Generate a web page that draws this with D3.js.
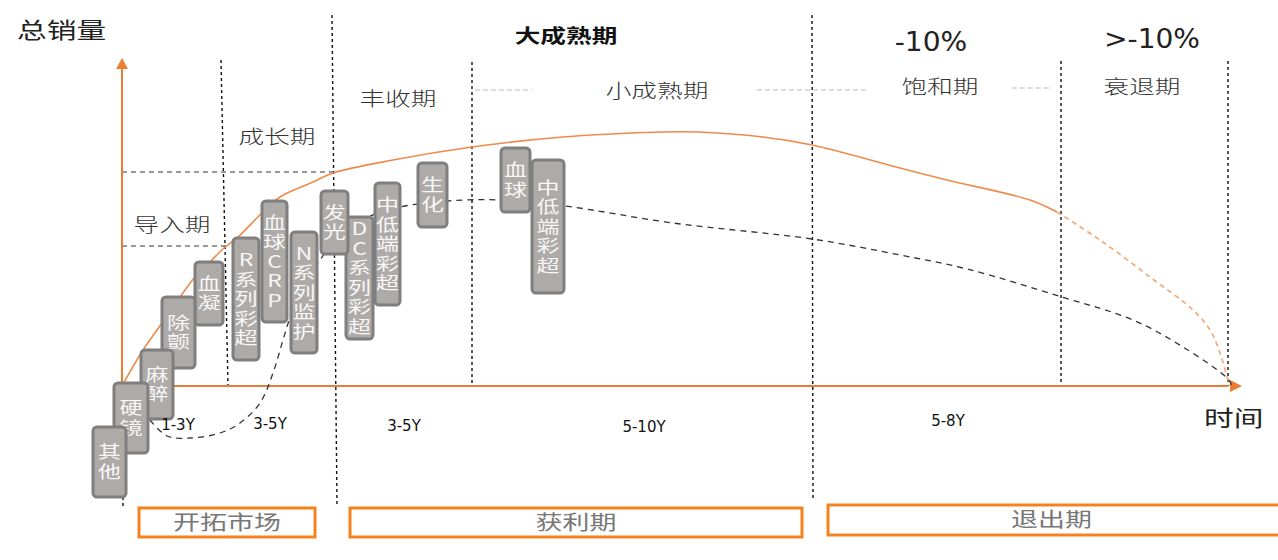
<!DOCTYPE html>
<html>
<head>
<meta charset="utf-8">
<script src="https://cdn.jsdelivr.net/npm/d3@7"></script>
<style>
body { margin: 0; background: #fff; }
text { font-family: "Noto Sans CJK SC", "Noto Sans", sans-serif; }
.divider { fill: none; stroke: #111; stroke-width: 1.4px; stroke-dasharray: 3 3; }
.guide { fill: none; stroke: #333; stroke-width: 1.2px; stroke-dasharray: 5 4; }
.guide--light { stroke: #bbb; stroke-dasharray: 5 3; }
.axis { stroke: #ED7D31; stroke-width: 2px; }
.sales { fill: none; stroke: #F08A4B; stroke-width: 1.6px; }
.sales--tail { stroke: #F5A46E; stroke-dasharray: 5 4; }
.profit { fill: none; stroke: #333; stroke-width: 1.3px; stroke-dasharray: 6 5; }
.product rect { fill: #AEAAA8; stroke: #7F7F7F; stroke-width: 3px; }
.product text { fill: #f7f7f7; font-size: 17px; text-anchor: middle; writing-mode: vertical-rl; text-orientation: upright; letter-spacing: 2.5px; }
.phase { fill: #333; font-size: 19px; font-weight: 300; text-anchor: middle; }
.span { fill: #111; font-family: "DejaVu Sans", sans-serif; font-size: 15px; text-anchor: middle; }
.stage rect { fill: none; stroke: #F5821F; stroke-width: 3px; }
.stage text { fill: #777; font-size: 20px; text-anchor: middle; }
</style>
</head>
<body>
<svg width="1278" height="560"></svg>
<script>

// total sales curve (time, sales)
var salesT = [0, 2.1, 4.0, 5.8, 7.3, 8.8, 10.2, 11.5, 14.0, 15.8, 19.1, 21.1, 27.1, 35.0, 44.1, 54.1, 57.5, 64.1, 69.0, 77.8, 82.5, 90.8, 93.5];
var salesV = [0, 3.6, 6.3, 8.9, 10.9, 12.4, 13.8, 14.8, 17.3, 18.9, 20.4, 21.3, 22.6, 23.9, 24.9, 25.4, 25.4, 24.9, 24.1, 21.8, 20.6, 18.6, 17.4];
// decline tail (dashed)
var tailT = [93.5, 97.8, 102.8, 107.1, 108.8, 109.8, 110.6, 110.8];
var tailV = [17.4, 14.6, 10.9, 7.6, 5.6, 3.3, 0.6, 0];
// profit curve (dashed black)
var profitT = [2.8, 4.5, 6.8, 9.8, 11.8, 13.8, 15.1, 16.1, 17.0, 18.3, 19.8, 22.3, 24.6, 27.8, 32.5, 38.0, 44.3, 55.1, 69.0, 77.8, 84.5, 94.0, 101.1, 106.1, 110.6, 111];
var profitV = [-3.4, -5.0, -5.2, -4.7, -3.7, -1.7, 1.3, 4.6, 7.4, 10.1, 12.6, 15.6, 16.9, 17.9, 18.5, 18.6, 18.0, 16.3, 14.7, 13.1, 11.7, 8.9, 6.6, 3.9, 0.7, 0];

// product boxes: label, time span, sales span
var boxLabels = ["其他", "硬镜", "麻醉", "除颤", "血凝", "R系列彩超", "血球CRP", "N系列监护", "发光", "DC系列彩超", "中低端彩超", "生化", "血球", "中低端彩超"];
var boxStart = [-2.9, -0.8, 1.9, 4.0, 7.3, 11.1, 14.0, 16.9, 19.9, 22.4, 25.3, 29.6, 37.9, 41.0];
var boxEnd = [0.4, 2.6, 5.1, 7.3, 10.1, 13.7, 16.5, 19.5, 22.6, 25.1, 27.8, 32.5, 40.8, 44.2];
var boxTop = [-4.1, 0.3, 3.6, 8.9, 12.4, 14.8, 18.5, 15.4, 19.5, 16.9, 20.3, 22.3, 23.8, 22.6];
var boxBottom = [-11.1, -6.7, -3.3, 1.8, 6.1, 2.6, 6.4, 3.3, 13.2, 4.7, 8.1, 15.9, 17.4, 9.3];

// phase dividers
var dividerTopT = [9.9, 21.0, 35.0, 69.0, 93.9, 110.6];
var dividerBottomT = [10.6, 21.5, 35.0, 69.1, 93.9, 110.6];
var dividerTop = [32.6, 37.1, 32.4, 37.1, 32.5, 32.5];
var dividerBottom = [0, -11.9, 0, -11.5, 0, 0];

// horizontal guides
var guideLevel = [21.4, 14.0];
var guideEnd = [21.1, 10.5];
var lightStart = [35.3, 63.5, 89.0];
var lightEnd = [41.0, 74.6, 93.0];
var lightLevel = [29.6, 29.6, 29.8];

// phase names
var phaseNames = ["成长期", "导入期", "丰收期", "小成熟期", "饱和期", "衰退期"];
var phaseT = [15.5, 5.0, 27.6, 53.5, 81.8, 102.0];
var phaseV = [24.2, 15.4, 28.0, 28.8, 29.2, 29.2];

// durations
var spanLabels = ["1-3Y", "3-5Y", "3-5Y", "5-10Y", "5-8Y"];
var spanT = [5.6, 14.8, 28.2, 52.2, 82.6];
var spanV = [-4.4, -4.3, -4.5, -4.6, -4.0];

// stages
var stageLabels = ["开拓市场", "获利期", "退出期"];
var stageStart = [1.7, 22.8, 70.6];
var stageEnd = [19.3, 68.0, 116.5];
var stageTop = [-12.2, -12.2, -11.9];
var stageBottom = [-15.1, -15.1, -14.9];

var svg = d3.select("svg");

var x = d3.scaleLinear().domain([0, 111]).range([122, 1232]);
var y = d3.scaleLinear().domain([0, 33]).range([386, 56]);

var stretch = 1.35; // the source text is drawn wide

var line = d3.line()
    .x(function(d) { return x(d[0]); })
    .y(function(d) { return y(d[1]); })
    .curve(d3.curveCatmullRom.alpha(0.5));

function zip(a, b) { return a.map(function(v, i) { return [v, b[i]]; }); }
function wide(px, py, s) { return "translate(" + px + "," + py + ") scale(" + (s || stretch) + ",1)"; }

// guides
svg.selectAll(".guide--dark").data(guideLevel).enter().append("line")
    .attr("class", "guide")
    .attr("x1", x(0)).attr("x2", function(d, i) { return x(guideEnd[i]); })
    .attr("y1", function(d) { return y(d); }).attr("y2", function(d) { return y(d); });

svg.selectAll(".guide--light").data(lightLevel).enter().append("line")
    .attr("class", "guide guide--light")
    .attr("x1", function(d, i) { return x(lightStart[i]); })
    .attr("x2", function(d, i) { return x(lightEnd[i]); })
    .attr("y1", function(d) { return y(d); }).attr("y2", function(d) { return y(d); });

svg.selectAll(".divider").data(dividerTop).enter().append("line")
    .attr("class", "divider")
    .attr("x1", function(d, i) { return x(dividerTopT[i]); })
    .attr("x2", function(d, i) { return x(dividerBottomT[i]); })
    .attr("y1", function(d) { return y(d); })
    .attr("y2", function(d, i) { return y(dividerBottom[i]); });

// small tick under the y axis
svg.append("line").attr("class", "divider")
    .attr("x1", x(0.1)).attr("x2", x(0.1))
    .attr("y1", y(-11.1)).attr("y2", y(-12.1));

// axes
svg.append("line").attr("class", "axis")
    .attr("x1", x(0)).attr("x2", x(110.6)).attr("y1", y(0)).attr("y2", y(0));
svg.append("line").attr("class", "axis")
    .attr("x1", x(0)).attr("x2", x(0)).attr("y1", y(0)).attr("y2", y(31.8));
svg.append("path").attr("fill", "#ED7D31")
    .attr("d", "M" + x(0) + "," + y(32.8) + "l-6,11h12z");
svg.append("path").attr("fill", "#ED7D31")
    .attr("d", "M" + x(112) + "," + y(0) + "l-12,-6v12z");

// curves
svg.append("path").datum(zip(profitT, profitV)).attr("class", "profit").attr("d", line);
svg.append("path").datum(zip(salesT, salesV)).attr("class", "sales").attr("d", line);
svg.append("path").datum(zip(tailT, tailV)).attr("class", "sales sales--tail").attr("d", line);

// product boxes, right to left so the left ones sit on top
var order = d3.range(boxLabels.length).reverse();
var box = svg.selectAll(".product").data(order).enter().append("g").attr("class", "product");
box.append("rect")
    .attr("rx", 4)
    .attr("x", function(i) { return x(boxStart[i]); })
    .attr("y", function(i) { return y(boxTop[i]); })
    .attr("width", function(i) { return x(boxEnd[i]) - x(boxStart[i]); })
    .attr("height", function(i) { return y(boxBottom[i]) - y(boxTop[i]); });
box.append("text")
    .attr("transform", function(i) {
      return wide((x(boxStart[i]) + x(boxEnd[i])) / 2, (y(boxTop[i]) + y(boxBottom[i])) / 2 + 1);
    })
    .text(function(i) { return boxLabels[i]; });

// titles
svg.append("text").attr("transform", wide(17, 38))
    .style("font-size", "22px").style("fill", "#222").text("总销量");
svg.append("text").attr("transform", wide(1204, 426))
    .style("font-size", "22px").style("fill", "#222").text("时间");
svg.append("text").attr("transform", wide(x(44.4), y(34.3)))
    .style("font-size", "19px").style("font-weight", "bold").style("fill", "#111")
    .style("text-anchor", "middle").text("大成熟期");
svg.append("text").attr("transform", wide(x(80.9), y(33.5), 1.04))
    .style("font-size", "27px").style("fill", "#222").style("font-family", "'DejaVu Sans', sans-serif")
    .style("text-anchor", "middle").text("-10%");
svg.append("text").attr("transform", wide(x(103.0), y(33.8), 1.04))
    .style("font-size", "27px").style("fill", "#222").style("font-family", "'DejaVu Sans', sans-serif")
    .style("text-anchor", "middle").text(">-10%");

svg.selectAll(".phase").data(phaseNames).enter().append("text")
    .attr("class", "phase")
    .attr("transform", function(d, i) { return wide(x(phaseT[i]), y(phaseV[i])); })
    .text(function(d) { return d; });

svg.selectAll(".span").data(spanLabels).enter().append("text")
    .attr("class", "span")
    .attr("x", function(d, i) { return x(spanT[i]); })
    .attr("y", function(d, i) { return y(spanV[i]); })
    .text(function(d) { return d; });

var stage = svg.selectAll(".stage").data(stageLabels).enter().append("g").attr("class", "stage");
stage.append("rect")
    .attr("x", function(d, i) { return x(stageStart[i]); })
    .attr("y", function(d, i) { return y(stageTop[i]); })
    .attr("width", function(d, i) { return x(stageEnd[i]) - x(stageStart[i]); })
    .attr("height", function(d, i) { return y(stageBottom[i]) - y(stageTop[i]); });
stage.append("text")
    .attr("transform", function(d, i) {
      return wide((x(stageStart[i]) + x(Math.min(stageEnd[i], 115.3))) / 2, (y(stageTop[i]) + y(stageBottom[i])) / 2 + 7);
    })
    .text(function(d) { return d; });

</script>
</body>
</html>
